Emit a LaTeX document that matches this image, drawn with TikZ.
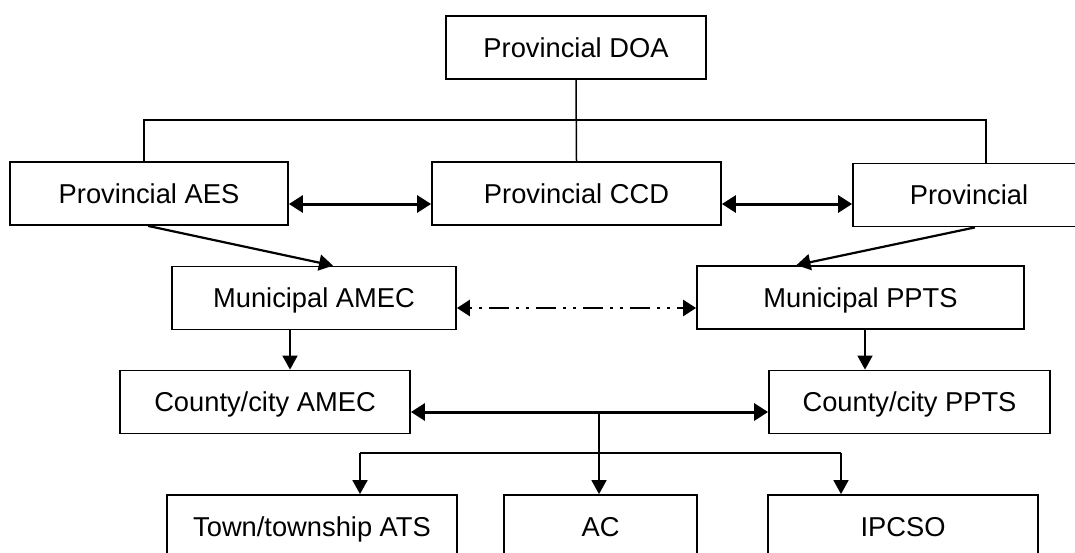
\documentclass[tikz,border=0pt]{standalone}
\usepackage{fontspec}
\setmainfont{Liberation Sans}
\usetikzlibrary{arrows.meta,calc}
\begin{document}
\begin{tikzpicture}[x=1pt,y=-1pt,
  box/.style={draw=black,line width=1.8pt,minimum height=63pt,inner sep=0pt,
    text height=19.5pt,text depth=0pt,
    font=\fontsize{27.3}{32}\selectfont},
  link/.style={line width=1.5pt},
  arr/.style={line width=1.7pt,-{Triangle[length=14pt,width=15pt]}},
  diag/.style={line width=2.2pt,-{Triangle[length=14pt,width=16pt]}},
  bidir/.style={line width=3pt,{Triangle[length=14pt,width=17pt]}-{Triangle[length=14pt,width=17pt]}},
  dashbi/.style={line width=2.6pt,{Triangle[length=13pt,width=16pt]}-{Triangle[length=13pt,width=16pt]},
    dash pattern=on 3pt off 7pt on 3pt off 7pt on 20pt off 7pt}]
\useasboundingbox (0,0) rectangle (1075,552);
\clip (0,0) rectangle (1075,552);
\fill[white] (0,0) rectangle (1075,552);
% row 1
\node[box,minimum width=260pt] (doa) at (576,47.5) {Provincial DOA};
% row 2
\node[box,minimum width=278pt] (aes) at (149,193.5) {Provincial AES};
\node[box,minimum width=289pt] (ccd) at (576.5,193.5) {Provincial CCD};
\node[box,minimum width=232pt] (prov) at (969,195) {Provincial};
% row 3
\node[box,minimum width=284pt] (mamec) at (314,298) {Municipal AMEC};
\node[box,minimum width=327pt] (mppts) at (860.5,297.5) {Municipal PPTS};
% row 4
\node[box,minimum width=290pt] (camec) at (265,402) {County/city AMEC};
\node[box,minimum width=281pt] (cppts) at (909.5,402) {County/city PPTS};
% row 5
\node[box,minimum width=290pt] (tats) at (312,526.5) {Town/township ATS};
\node[box,minimum width=193pt] (ac) at (600.5,526.5) {AC};
\node[box,minimum width=270pt] (ipcso) at (903,526.5) {IPCSO};
% top tree
\draw[link] (doa.south) -- (ccd.north);
\coordinate (hl) at (144,120);
\coordinate (hr) at (986,120);
\draw[link] (hl |- aes.north) -- (hl) -- (hr) -- (hr |- prov.north);
% row 2 bidirectional
\coordinate (r2a) at ($(aes.east)+(0,10.5)$);
\coordinate (r2b) at ($(ccd.east)+(0,10.5)$);
\draw[bidir] (r2a) -- (r2a -| ccd.west);
\draw[bidir] (r2b) -- (r2b -| prov.west);
% diagonals
\draw[diag] ($(aes.south)+(-1,0)$) -- ($(mamec.north)+(19,0)$);
\draw[diag] ($(prov.south)+(6,0)$) -- ($(mppts.north)+(-64,0)$);
% row 3 dash-dot-dot
\coordinate (r3) at ($(mamec.east)+(0,10)$);
\draw[dashbi] (r3) -- (r3 -| mppts.west);
% row 3 -> row 4
\coordinate (d1) at ($(mamec.south)+(-24,0)$);
\draw[arr] (d1) -- (d1 |- camec.north);
\coordinate (d2) at ($(mppts.south)+(4.5,0)$);
\draw[arr] (d2) -- (d2 |- cppts.north);
% row 4 bidirectional
\coordinate (r4) at ($(camec.east)+(0,10)$);
\draw[bidir] (r4) -- (r4 -| cppts.west);
% branch
\coordinate (bt) at (599,412);
\coordinate (bj) at (599,453);
\coordinate (bl) at (360,453);
\coordinate (br) at (841,453);
\draw[link] (bt) -- (bj);
\draw[link] (bl) -- (br);
\draw[arr] (bl) -- (bl |- tats.north);
\draw[arr] (bj) -- (bj |- ac.north);
\draw[arr] (br) -- (br |- ipcso.north);
\end{tikzpicture}
\end{document}
